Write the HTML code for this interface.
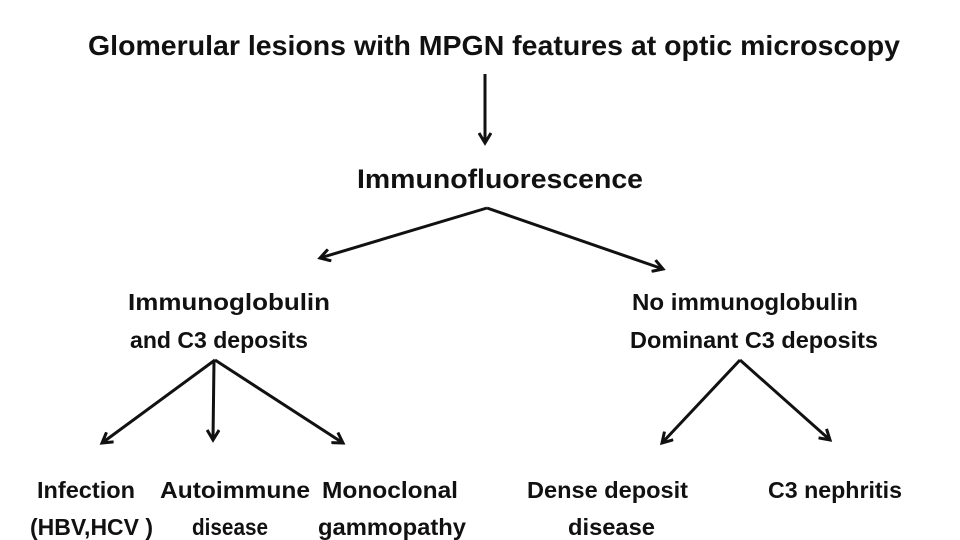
<!DOCTYPE html>
<html><head><meta charset="utf-8"><style>
html,body{margin:0;padding:0;background:#fff;}
svg{display:block}
text{font-family:"Liberation Sans",sans-serif;font-weight:bold;fill:#111;}
</style></head><body>
<svg width="960" height="540" viewBox="0 0 960 540" xmlns="http://www.w3.org/2000/svg">
<defs>
<marker id="a" markerWidth="14" markerHeight="14" refX="11" refY="7" orient="auto" markerUnits="userSpaceOnUse">
<polyline points="1,1 11,7 1,13" fill="none" stroke="#111" stroke-width="3"/>
</marker>
</defs>
<g stroke="#111" stroke-width="3" fill="none" marker-end="url(#a)">
<line x1="485" y1="74" x2="485" y2="143"/>
<line x1="487" y1="208" x2="320" y2="258"/>
<line x1="487" y1="208" x2="663" y2="269"/>
<line x1="215" y1="360" x2="102" y2="443"/>
<line x1="214" y1="360" x2="213" y2="440"/>
<line x1="215" y1="360" x2="343" y2="443"/>
<line x1="740" y1="360" x2="662" y2="443"/>
<line x1="740" y1="360" x2="830" y2="440"/>
</g>
<text x="88" y="55" font-size="28" textLength="812" lengthAdjust="spacingAndGlyphs">Glomerular lesions with MPGN features at optic microscopy</text>
<text x="357" y="188" font-size="27" textLength="286" lengthAdjust="spacingAndGlyphs">Immunofluorescence</text>
<text x="128" y="310" font-size="23" textLength="202" lengthAdjust="spacingAndGlyphs">Immunoglobulin</text>
<text x="130" y="348" font-size="23" textLength="178" lengthAdjust="spacingAndGlyphs">and C3 deposits</text>
<text x="632" y="310" font-size="23" textLength="226" lengthAdjust="spacingAndGlyphs">No immunoglobulin</text>
<text x="630" y="348" font-size="23" textLength="248" lengthAdjust="spacingAndGlyphs">Dominant C3 deposits</text>
<text x="37" y="498" font-size="23" textLength="98" lengthAdjust="spacingAndGlyphs">Infection</text>
<text x="30" y="535" font-size="23" textLength="123" lengthAdjust="spacingAndGlyphs">(HBV,HCV )</text>
<text x="160" y="498" font-size="23" textLength="150" lengthAdjust="spacingAndGlyphs">Autoimmune</text>
<text x="192" y="535" font-size="23" textLength="76" lengthAdjust="spacingAndGlyphs">disease</text>
<text x="322" y="498" font-size="23" textLength="136" lengthAdjust="spacingAndGlyphs">Monoclonal</text>
<text x="318" y="535" font-size="23" textLength="148" lengthAdjust="spacingAndGlyphs">gammopathy</text>
<text x="527" y="498" font-size="23" textLength="161" lengthAdjust="spacingAndGlyphs">Dense deposit</text>
<text x="568" y="535" font-size="23" textLength="87" lengthAdjust="spacingAndGlyphs">disease</text>
<text x="768" y="498" font-size="23" textLength="134" lengthAdjust="spacingAndGlyphs">C3 nephritis</text>
</svg>
</body></html>
